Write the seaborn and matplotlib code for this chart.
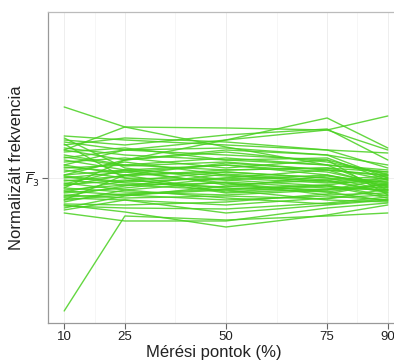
import numpy as np
import pandas as pd
import matplotlib
matplotlib.use("Agg")
import matplotlib.pyplot as plt
import seaborn as sns

# Measuring points (% of vowel duration)
meresi_pontok = [10, 25, 50, 75, 90]

# Normalized F3 values of each token at the five measuring points
f3_10 = [0.71, -1.33, -0.27, -0.35, 0.28, 0.13, 0.03, 0.38, 0.42, -0.32,
         0.36, 0.33, 0.30, 0.28, 0.26, 0.23, 0.20, 0.18, 0.16, 0.13,
         0.10, 0.08, 0.06, 0.03, 0.02, 0.00, -0.02, -0.03, -0.05, -0.07,
         -0.08, -0.10, -0.12, -0.13, -0.15, -0.17, -0.18, -0.20, -0.22, -0.24,
         -0.26, -0.28, -0.30, 0.40, 0.34, -0.10, -0.22,
         -0.06, 0.01, -0.14, 0.11, -0.19, 0.21]
f3_25 = [0.51, -0.38, -0.34, -0.43, 0.51, 0.28, 0.18, 0.33, 0.38, -0.22,
         0.28, 0.40, 0.23, 0.18, 0.30, 0.13, 0.28, 0.08, 0.20, 0.03,
         0.13, 0.00, 0.16, 0.08, -0.04, 0.06, -0.07, 0.02, -0.12, -0.02,
         0.03, -0.14, -0.07, -0.17, -0.10, -0.20, -0.08, -0.22, -0.17, -0.12,
         -0.27, -0.30, -0.18, 0.10, 0.00, 0.18, 0.03,
         0.08, -0.05, -0.03, 0.06, -0.16, 0.12]
f3_50 = [0.31, -0.42, -0.49, -0.43, 0.50, 0.38, 0.38, 0.43, 0.33, -0.35,
         0.23, 0.36, 0.18, 0.28, 0.18, 0.08, 0.30, 0.13, 0.10, 0.06,
         0.20, -0.02, 0.03, -0.07, 0.00, 0.13, -0.12, 0.08, -0.04, -0.10,
         -0.14, -0.17, -0.05, -0.22, 0.00, -0.18, 0.04, -0.27, -0.12, -0.20,
         -0.24, -0.31, -0.08, -0.02, -0.15, 0.26, 0.15,
         0.02, -0.09, 0.06, -0.05, -0.11, 0.16]
f3_75 = [0.13, -0.38, -0.37, -0.30, 0.48, 0.60, 0.48, 0.49, 0.28, -0.27,
         0.18, 0.28, 0.20, 0.23, 0.13, 0.10, 0.23, 0.06, 0.18, 0.00,
         0.13, 0.03, -0.04, -0.02, 0.08, 0.03, -0.07, 0.10, -0.10, -0.14,
         -0.08, -0.12, -0.17, -0.18, -0.05, -0.21, -0.02, -0.20, -0.22, -0.26,
         -0.16, -0.25, -0.12, -0.08, -0.11, 0.16, 0.08,
         -0.03, 0.02, 0.00, -0.14, -0.07, 0.08]
f3_90 = [0.06, -0.35, -0.27, -0.25, 0.28, 0.30, 0.62, 0.18, 0.25, -0.22,
         0.03, 0.10, -0.02, 0.13, -0.12, 0.06, 0.00, -0.07, -0.17, -0.04,
         0.08, -0.10, 0.00, -0.14, 0.03, -0.08, -0.18, -0.02, -0.12, -0.06,
         -0.20, -0.09, -0.15, -0.22, -0.03, -0.11, 0.02, -0.17, -0.24, -0.21,
         -0.05, -0.19, -0.01, -0.13, -0.07, 0.04, -0.09,
         -0.15, -0.05, -0.12, -0.23, 0.00, 0.02]

oszlopok = [f3_10, f3_25, f3_50, f3_75, f3_90]
n = len(f3_10)
df = pd.DataFrame({
    "token": np.tile(np.arange(n), len(meresi_pontok)),
    "pont": np.repeat(meresi_pontok, n),
    "F3": np.concatenate(oszlopok),
})

sns.set_theme(style="white")
plt.rcParams["font.family"] = ["Liberation Sans", "DejaVu Sans"]

fig = plt.figure(figsize=(3.94, 3.61), dpi=100)
ax = fig.add_axes([0.1218, 0.1053, 0.9036, 0.8615])

# faint vertical grid (major + minor) and a single horizontal reference
for xv in meresi_pontok:
    ax.axvline(xv, color="#eeeeee", lw=0.7, zorder=0)
for xv in [17.5, 37.5, 62.5, 82.5]:
    ax.axvline(xv, color="#f5f5f5", lw=0.6, zorder=0)
ax.axhline(0, color="#eeeeee", lw=0.7, zorder=0)

sns.lineplot(data=df, x="pont", y="F3", units="token", estimator=None,
             color="#48d01f", lw=1.0, alpha=0.85, ax=ax, zorder=2)

ax.set_xlim(6, 94)
ax.set_ylim(-1.45, 1.66)
ax.set_xticks(meresi_pontok)
ax.set_xticklabels([str(v) for v in meresi_pontok], fontsize=9.5, color="#222222")
ax.set_yticks([0])
ax.set_yticklabels([r"$\overline{F}_3$"], fontsize=9.5, color="#222222")
ax.tick_params(axis="both", length=4, width=0.8, color="#666666", pad=1.5)
ax.tick_params(axis="x", bottom=True)
ax.tick_params(axis="y", left=True)

for side, sp in ax.spines.items():
    sp.set_color("#bbbbbb")
    sp.set_linewidth(0.9)
ax.spines["left"].set_color("#999999")
ax.spines["bottom"].set_color("#999999")

ax.set_xlabel("Mérési pontok (%)", fontsize=12, color="#222222", va="center")
ax.set_ylabel("Normalizált frekvencia", fontsize=12, color="#222222", va="center")
ax.xaxis.set_label_coords(0.465, -0.094)
ax.yaxis.set_label_coords(-0.088, 0.5)

fig.savefig("out.png", dpi=100)
